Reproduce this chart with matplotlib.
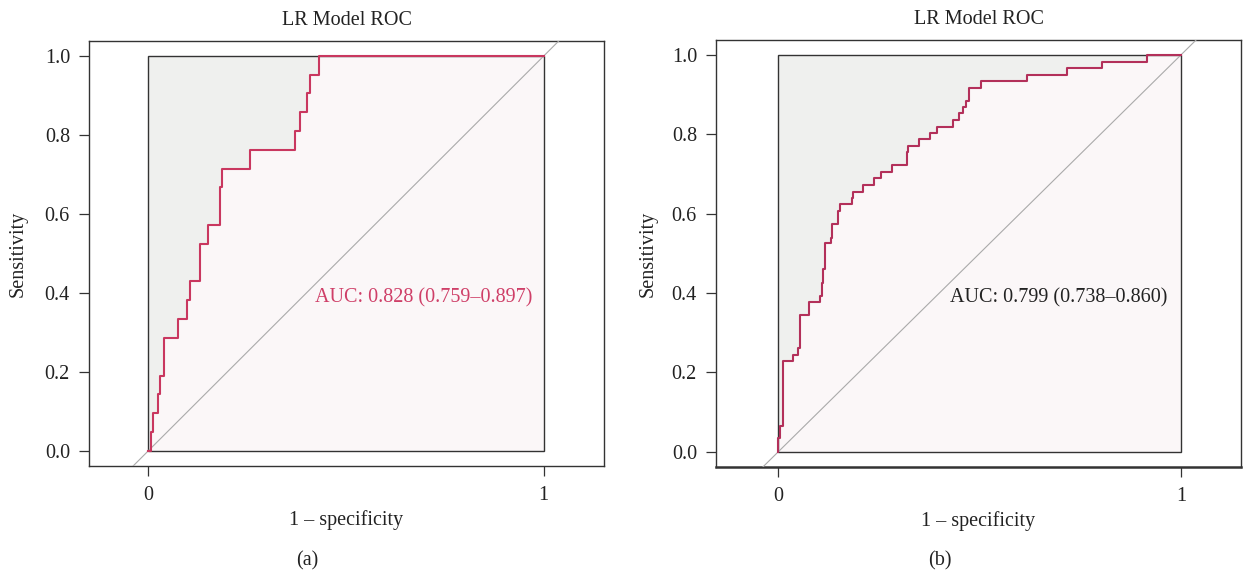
import matplotlib
matplotlib.use("Agg")
import matplotlib.pyplot as plt
from matplotlib.patches import Rectangle

plt.rcParams["font.family"] = ["Liberation Serif", "DejaVu Serif"]

# ---------- data ----------
fpr_a = [0, 0.006, 0.012, 0.023, 0.029, 0.039, 0.074, 0.097, 0.105, 0.131,
         0.151, 0.181, 0.187, 0.257, 0.370, 0.383, 0.400, 0.408, 0.432, 1.0]
tpr_a = [0, 0.048, 0.095, 0.143, 0.190, 0.286, 0.333, 0.381, 0.429, 0.524,
         0.571, 0.667, 0.714, 0.762, 0.810, 0.857, 0.905, 0.952, 1.0, 1.0]

fpr_b = [0, 0.0, 0.004, 0.012, 0.036, 0.050, 0.054, 0.077, 0.104, 0.108,
         0.112, 0.116, 0.130, 0.134, 0.149, 0.152, 0.182, 0.186, 0.211, 0.238,
         0.255, 0.282, 0.319, 0.322, 0.349, 0.377, 0.393, 0.435, 0.448, 0.458,
         0.465, 0.474, 0.503, 0.619, 0.716, 0.803, 0.915, 1.0]
tpr_b = [0, 0.034, 0.065, 0.229, 0.245, 0.261, 0.345, 0.377, 0.392, 0.426,
         0.460, 0.525, 0.540, 0.574, 0.607, 0.624, 0.639, 0.655, 0.672, 0.689,
         0.706, 0.722, 0.755, 0.771, 0.788, 0.804, 0.819, 0.836, 0.853, 0.870,
         0.885, 0.918, 0.935, 0.951, 0.967, 0.983, 1.0, 1.0]

auc_a = "AUC: 0.828 (0.759\u20130.897)"
auc_b = "AUC: 0.799 (0.738\u20130.860)"
yticks = [0.0, 0.2, 0.4, 0.6, 0.8, 1.0]
ytick_labels = ["0.0", "0.2", "0.4", "0.6", "0.8", "1.0"]
xticks = [0, 1]
xtick_labels = ["0", "1"]

FS = 14.5
DARK = "#333333"
TXT = "#222222"
GREY_FILL = "#eff0ee"
PINK_FILL = "#fbf7f8"


def roc_panel(ax, fpr, tpr, curve_col, auc_txt, auc_col, xlim, ylim, ylab_x):
    ax.set_xlim(*xlim)
    ax.set_ylim(*ylim)

    # ---------- fills ----------
    ax.fill_between(fpr, tpr, 1, step="post", color=GREY_FILL, lw=0, zorder=1)
    ax.fill_between(fpr, 0, tpr, step="post", color=PINK_FILL, lw=0, zorder=1)
    ax.add_patch(Rectangle((0, 0), 1, 1, fill=False, ec=DARK, lw=1.0, zorder=2))

    # ---------- chance line ----------
    ax.axline((0, 0), slope=1, color="#aaaaaa", lw=0.8, zorder=3)

    # ---------- curve ----------
    ax.step(fpr, tpr, where="post", color=curve_col, lw=1.5, zorder=4)

    ax.text(0.697, 0.387, auc_txt, color=auc_col, fontsize=FS,
            ha="center", va="center", zorder=5)

    ax.set_yticks(yticks)
    ax.set_yticklabels(ytick_labels)
    ax.set_xticks(xticks)
    ax.set_xticklabels(xtick_labels)
    ax.tick_params(axis="both", direction="out", length=7.2, width=0.9,
                   color=DARK, labelsize=FS, labelcolor=TXT)
    ax.tick_params(axis="y", pad=6.5)
    ax.tick_params(axis="x", pad=7)

    for sp in ax.spines.values():
        sp.set_color(DARK)
        sp.set_linewidth(1.0)

    ax.set_ylabel("Sensitivity", fontsize=FS, color=TXT)
    ax.yaxis.set_label_coords(ylab_x, 0.5)
    ax.yaxis.label.set_va("center")
    ax.set_xlabel("1 \u2013 specificity", fontsize=FS, color=TXT)
    ax.xaxis.set_label_coords(0.5, -0.126)
    ax.xaxis.label.set_va("center")
    ax.set_title("LR Model ROC", fontsize=FS, color=TXT, pad=0,
                 y=1.048, va="center")


fig = plt.figure(figsize=(12.43, 5.71), dpi=100)
W, H = 1243, 571

# panel a, pixel box: left 89, right 604, top 41, bottom 466
ax_a = fig.add_axes([89 / W, 1 - 466 / H, (604 - 89) / W, (466 - 41) / H])
roc_panel(ax_a, fpr_a, tpr_a, "#c9375f", auc_a, "#cf3f68",
          (-0.1504, 1.1525), (-0.0388, 1.038), -0.138)

# panel b, pixel box: left 716, right 1241, top 40, bottom 467
ax_b = fig.add_axes([716 / W, 1 - 467 / H, (1241 - 716) / W, (467 - 40) / H])
roc_panel(ax_b, fpr_b, tpr_b, "#b3305a", auc_b, TXT,
          (-0.155, 1.1496), (-0.0386, 1.038), -0.13)
ax_b.spines["bottom"].set_linewidth(1.8)

fig.text(307 / W, 1 - 561 / H, "(a)", fontsize=FS, ha="center", va="center",
         color=TXT)
fig.text(940 / W, 1 - 561 / H, "(b)", fontsize=FS, ha="center", va="center",
         color=TXT)

fig.savefig("out.png", dpi=100)
